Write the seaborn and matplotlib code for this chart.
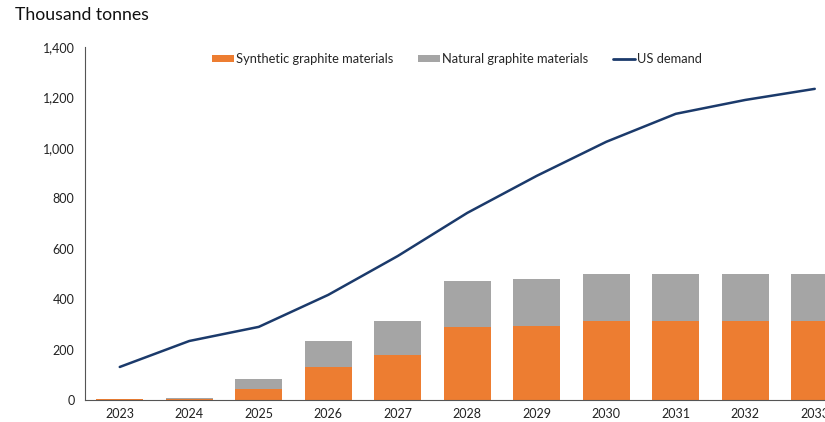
import pandas as pd
import matplotlib.pyplot as plt
import seaborn as sns
from matplotlib.patches import Patch
from matplotlib.lines import Line2D

years = ["2023", "2024", "2025", "2026", "2027", "2028", "2029", "2030", "2031", "2032", "2033"]
synthetic = [4, 4, 44, 131, 179, 290, 294, 313, 313, 313, 313]
natural = [1, 2, 39, 103, 134, 182, 186, 187, 187, 187, 187]
us_demand = [131, 234, 290, 417, 571, 742, 889, 1024, 1135, 1190, 1234]

ORANGE = "#ED7D31"
GREY = "#A5A5A5"
NAVY = "#1B3A6B"

df = pd.DataFrame({"year": years, "synthetic": synthetic, "natural": natural, "demand": us_demand})
df["total"] = df["synthetic"] + df["natural"]
df["pos"] = range(len(df))

sns.set_style("white")
plt.rcParams["font.family"] = ["Lato", "DejaVu Sans"]

fig = plt.figure(figsize=(8.25, 4.22), dpi=100)
# axes run past the right edge, like the cropped original
ax = fig.add_axes([85 / 825, 1 - 400 / 422, 764.5 / 825, 353 / 422])

sns.barplot(data=df, x="year", y="total", color=GREY, width=0.68, saturation=1,
            linewidth=0, edgecolor="none", ax=ax)
sns.barplot(data=df, x="year", y="synthetic", color=ORANGE, width=0.68, saturation=1,
            linewidth=0, edgecolor="none", ax=ax)
sns.lineplot(data=df, x="pos", y="demand", color=NAVY, linewidth=1.8, ax=ax)

ax.set_xlim(-0.5, len(years) - 0.5)
ax.set_ylim(0, 1400)
ax.set_yticks(range(0, 1401, 200))
ax.set_yticklabels([f"{v:,}" for v in range(0, 1401, 200)])
ax.set_xticks(range(len(years)))
ax.set_xticklabels(years)
ax.set_xticks([i - 0.5 for i in range(len(years) + 1)], minor=True)
ax.tick_params(axis="x", which="major", length=0, labelsize=9, pad=6, colors="#222222")
ax.tick_params(axis="x", which="minor", length=4, width=0.8, color="#555555", direction="out")
ax.tick_params(axis="y", length=4, width=0.8, color="#555555", direction="out", labelsize=9, colors="#222222")
ax.set_xlabel("")
ax.set_ylabel("")
sns.despine(ax=ax)
for s in ["left", "bottom"]:
    ax.spines[s].set_color("#555555")
    ax.spines[s].set_linewidth(0.8)

fig.text(15 / 825, 1 - 15 / 422, "Thousand tonnes", fontsize=12.7, va="center", ha="left", color="#111111")

handles = [
    Patch(facecolor=ORANGE, edgecolor="none"),
    Patch(facecolor=GREY, edgecolor="none"),
    Line2D([0], [0], color=NAVY, linewidth=2),
]
labels = ["Synthetic graphite materials", "Natural graphite materials", "US demand"]
fig.legend(handles, labels, loc="center", bbox_to_anchor=(457 / 825, 1 - 59 / 422), ncol=3,
           frameon=False, fontsize=9.3, handlelength=1.7, handleheight=0.55, handletextpad=0.15,
           columnspacing=1.9)

fig.savefig("out.png", dpi=100)
